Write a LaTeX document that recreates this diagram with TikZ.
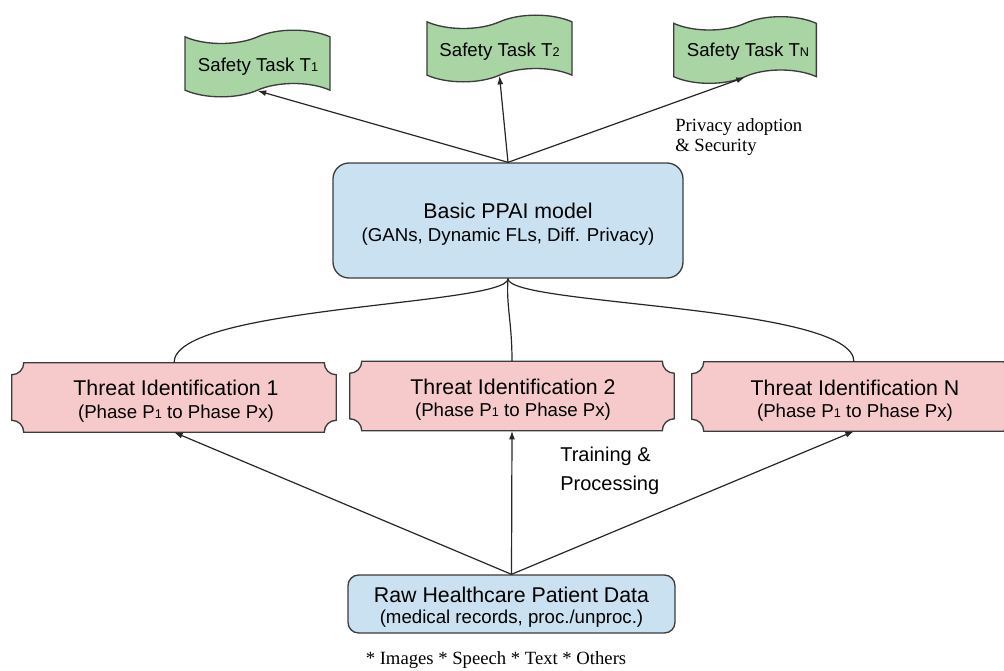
\documentclass[tikz,border=0pt]{standalone}
\usepackage{fontspec}
\setmainfont{Liberation Serif}
\setsansfont{Liberation Sans}
\usetikzlibrary{shapes.symbols,arrows.meta}
\definecolor{tgreen}{HTML}{A9D5A4}
\definecolor{tpink}{HTML}{F6CACA}
\definecolor{tblue}{HTML}{C9E1F0}
\definecolor{edgecol}{HTML}{3C3C3C}
\newcommand{\fs}[1]{\fontsize{#1}{#1}\selectfont}
\newcommand{\lo}[1]{{\fontsize{9.5}{9.5}\selectfont #1}}
\newcommand{\plaque}[1]{%
\path[plaquedraw]
 ([yshift=-9pt]#1.north west)
   .. controls ([xshift=5pt,yshift=-9pt]#1.north west) and ([xshift=9pt,yshift=-5pt]#1.north west) .. ([xshift=9pt]#1.north west)
 -- ([xshift=-9pt]#1.north east)
   .. controls ([xshift=-9pt,yshift=-5pt]#1.north east) and ([xshift=-5pt,yshift=-9pt]#1.north east) .. ([yshift=-9pt]#1.north east)
 -- ([yshift=9pt]#1.south east)
   .. controls ([xshift=-5pt,yshift=9pt]#1.south east) and ([xshift=-9pt,yshift=5pt]#1.south east) .. ([xshift=-9pt]#1.south east)
 -- ([xshift=9pt]#1.south west)
   .. controls ([xshift=9pt,yshift=5pt]#1.south west) and ([xshift=5pt,yshift=9pt]#1.south west) .. ([yshift=9pt]#1.south west)
 -- cycle;}
\begin{document}
\begin{tikzpicture}[x=0.75pt,y=-0.75pt,
  tapebox/.style={tape, draw=edgecol, line width=1pt, fill=tgreen, inner sep=0pt,
    tape bend height=10pt, minimum width=108.75pt, minimum height=50pt},
  roundbox/.style={rectangle, draw=edgecol, line width=1pt, fill=tblue, inner sep=0pt},
  plaquebox/.style={rectangle, inner sep=0pt, minimum width=243pt, minimum height=51.75pt},
  plaquedraw/.style={draw=edgecol, line width=1pt, fill=tpink},
  lbl/.style={inner sep=0pt, anchor=base, font=\sffamily},
  conn/.style={draw=black!85, line width=0.9pt},
  arr/.style={conn, -{Latex[length=6.5pt,width=4.5pt]}},
]
\clip (0,0) rectangle (1004,671);
% safety tasks
\node[tapebox] (t1) at (257.5,63.5) {};
\node[tapebox] (t2) at (499.5,48.5) {};
\node[tapebox, minimum width=107pt] (tn) at (745,50) {};
\node[lbl, font=\sffamily\fs{14}] (t1t) at (258,71) {Safety Task T\lo{1}};
\node[lbl, font=\sffamily\fs{14}] (t2t) at (499.5,56) {Safety Task T\lo{2}};
\node[lbl, font=\sffamily\fs{14}] (tnt) at (748,56.5) {Safety Task T\lo{N}};
% PPAI model
\node[roundbox, rounded corners=12pt, minimum width=262.5pt, minimum height=86.25pt] (ppai) at (508,220.5) {};
\node[lbl, font=\sffamily\fs{16}] (ppai1) at (508,218) {Basic PPAI model};
\node[lbl, font=\sffamily\fs{14}] (ppai2) at (508,241) {(GANs, Dynamic FLs, Diff. Privacy)};
% privacy label
\node[lbl, anchor=base west, font=\rmfamily\fs{14}] (pa1) at (675,131) {Privacy adoption};
\node[lbl, anchor=base west, font=\rmfamily\fs{14}] (pa2) at (675,151) {\& Security};
% threat identification boxes
\node[plaquebox] (ti1) at (174,397.5) {};
\node[plaquebox] (ti2) at (512,396) {};
\node[plaquebox] (tin) at (854,396.5) {};
\plaque{ti1}
\plaque{ti2}
\plaque{tin}
\node[lbl, font=\sffamily\fs{16}] (ti1a) at (176,395.5) {Threat Identification 1};
\node[lbl, font=\sffamily\fs{14}] (ti1b) at (176,418) {(Phase P\lo{1} to Phase Px)};
\node[lbl, font=\sffamily\fs{16}] (ti2a) at (513,394) {Threat Identification 2};
\node[lbl, font=\sffamily\fs{14}] (ti2b) at (513,416.5) {(Phase P\lo{1} to Phase Px)};
\node[lbl, font=\sffamily\fs{16}] (tina) at (855,395) {Threat Identification N};
\node[lbl, font=\sffamily\fs{14}] (tinb) at (855,417.5) {(Phase P\lo{1} to Phase Px)};
% training label
\node[lbl, anchor=base west, font=\sffamily\fs{15}] (tr1) at (560,461.5) {Training \&};
\node[lbl, anchor=base west, font=\sffamily\fs{15}] (tr2) at (560,490) {Processing};
% raw data
\node[roundbox, rounded corners=8pt, minimum width=245.25pt, minimum height=43.5pt] (raw) at (511.5,604) {};
\node[lbl, font=\sffamily\fs{16}] (raw1) at (511.5,602) {Raw Healthcare Patient Data};
\node[lbl, font=\sffamily\fs{14}] (raw2) at (511.5,623) {(medical records, proc./unproc.)};
\node[lbl, font=\rmfamily\fs{14}] (kinds) at (496,664) {* Images * Speech * Text * Others};
% connectors
\draw[arr] (ppai.north) -- (t1.south);
\draw[arr] (ppai.north) -- (t2.south);
\draw[arr] (ppai.north) -- (tn.south);
\draw[conn] (ppai.south) .. controls +(0,27) and +(0,-57) .. (ti1.north);
\draw[conn] (ppai.south) .. controls +(-2,27) and +(0,-40) .. (ti2.north);
\draw[conn] (ppai.south) .. controls +(0,27) and +(0,-57) .. (tin.north);
\draw[arr] (raw.north) -- (ti1.south);
\draw[arr] (raw.north) -- (ti2.south);
\draw[arr] (raw.north) -- (tin.south);
\end{tikzpicture}
\end{document}
